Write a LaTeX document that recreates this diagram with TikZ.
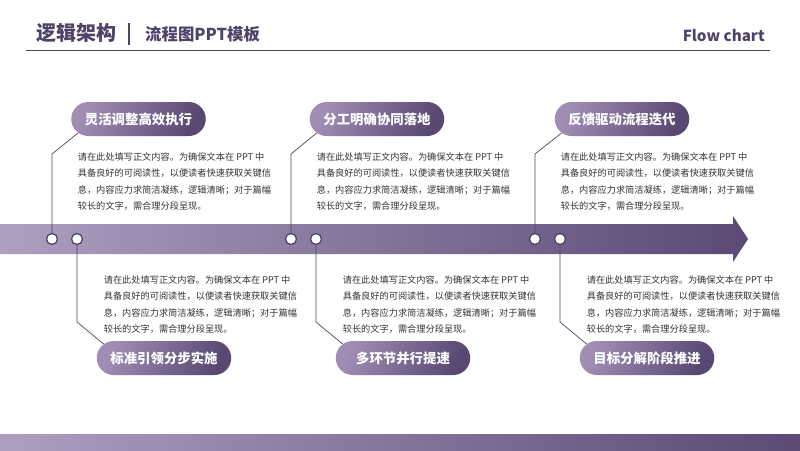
\documentclass[tikz,border=0pt]{standalone}
\usepackage{fontspec}
\setmainfont{Noto Sans CJK SC}
\usetikzlibrary{shapes.misc,backgrounds}
\definecolor{ink}{HTML}{4E4468}
\definecolor{barL}{HTML}{AC9FC0}
\definecolor{barR}{HTML}{5A4A75}
\definecolor{pillL}{HTML}{A08DB4}
\definecolor{pillR}{HTML}{584872}
\definecolor{body}{HTML}{333333}
\tikzset{
  x=1pt,y=-1pt,
  pill/.style={rounded rectangle,minimum width=134.5pt,minimum height=34pt,inner sep=0pt,
    left color=pillL,right color=pillR,shading angle=65,
    text=white,font=\fontsize{13.4}{16}\selectfont\bfseries},
  dot/.style={circle,draw=ink,line width=1.3pt,fill=white,minimum size=11pt,inner sep=0pt},
  para/.style={anchor=north west,inner sep=0pt,align=left,text=body,font=\fontsize{9.2}{16.5}\selectfont},
  link/.style={draw=ink,line width=0.7pt},
}
\newcommand{\paratext}{请在此处填写正文内容。为确保文本在 PPT 中\\具备良好的可阅读性，以便读者快速获取关键信\\息，内容应力求简洁凝练，逻辑清晰；对于篇幅\\较长的文字，需合理分段呈现。}
\begin{document}
\begin{tikzpicture}
\useasboundingbox (0,0) rectangle (800,450);
% header
\node[anchor=west,inner sep=0pt,text=ink,font=\fontsize{20}{24}\selectfont\bfseries] (title) at (36,33) {逻辑架构};
\node[anchor=west,inner sep=0pt,text=ink,font=\fontsize{16.4}{20}\selectfont\bfseries] (sub) at (145,34) {流程图PPT模板};
\node[anchor=east,inner sep=0pt,text=ink,font=\fontsize{15.2}{20}\selectfont\bfseries] (en) at (765,36) {Flow chart};
\coordinate (vt) at (129,23); \coordinate (vb) at (129,45);
\draw[ink,line width=1.2pt] (vt) -- (vb);
\coordinate (hl) at (26,50.5); \coordinate (hr) at (770,50.5);
\draw[ink,line width=1pt] (hl) -- (hr);
% bottom band
\path[left color=barL,right color=barR] (0,434) rectangle (800,450);
% pills
\node[pill] (p1) at (138.5,119) {灵活调整高效执行};
\node[pill] (p2) at (377,119) {分工明确协同落地};
\node[pill] (p3) at (622,119) {反馈驱动流程迭代};
\node[pill] (p4) at (164,358) {标准引领分步实施};
\node[pill] (p5) at (403,358) {多环节并行提速};
\node[pill] (p6) at (647,358) {目标分解阶段推进};
% dots
\node[dot] (d1) at (52,239) {};
\node[dot] (d2) at (77,239) {};
\node[dot] (d3) at (291,239) {};
\node[dot] (d4) at (316,239) {};
\node[dot] (d5) at (535,239) {};
\node[dot] (d6) at (560,239) {};
% elbows
\coordinate (e1) at (52,154); \coordinate (e3) at (291,154); \coordinate (e5) at (535,154);
\coordinate (e2) at (77,322); \coordinate (e4) at (316,322); \coordinate (e6) at (560,322);
\begin{scope}[on background layer]
% main arrow
\path[left color=barL,right color=barR] (0,224) -- (733,224) -- (733,216) -- (748,239) -- (733,262) -- (733,254) -- (0,254) -- cycle;
\draw[link] (d1.north) -- (e1) -- (p1.193);
\draw[link] (d3.north) -- (e3) -- (p2.193);
\draw[link] (d5.north) -- (e5) -- (p3.193);
\draw[link] (d2.south) -- (e2) -- (p4.167);
\draw[link] (d4.south) -- (e4) -- (p5.167);
\draw[link] (d6.south) -- (e6) -- (p6.167);
\end{scope}
% paragraphs
\node[para] (t1) at (77.6,152.5) {\paratext};
\node[para] (t2) at (316.6,152.5) {\paratext};
\node[para] (t3) at (560.6,152.5) {\paratext};
\node[para] (t4) at (103.6,275.5) {\paratext};
\node[para] (t5) at (342.6,275.5) {\paratext};
\node[para] (t6) at (586.6,275.5) {\paratext};
\end{tikzpicture}
\end{document}
